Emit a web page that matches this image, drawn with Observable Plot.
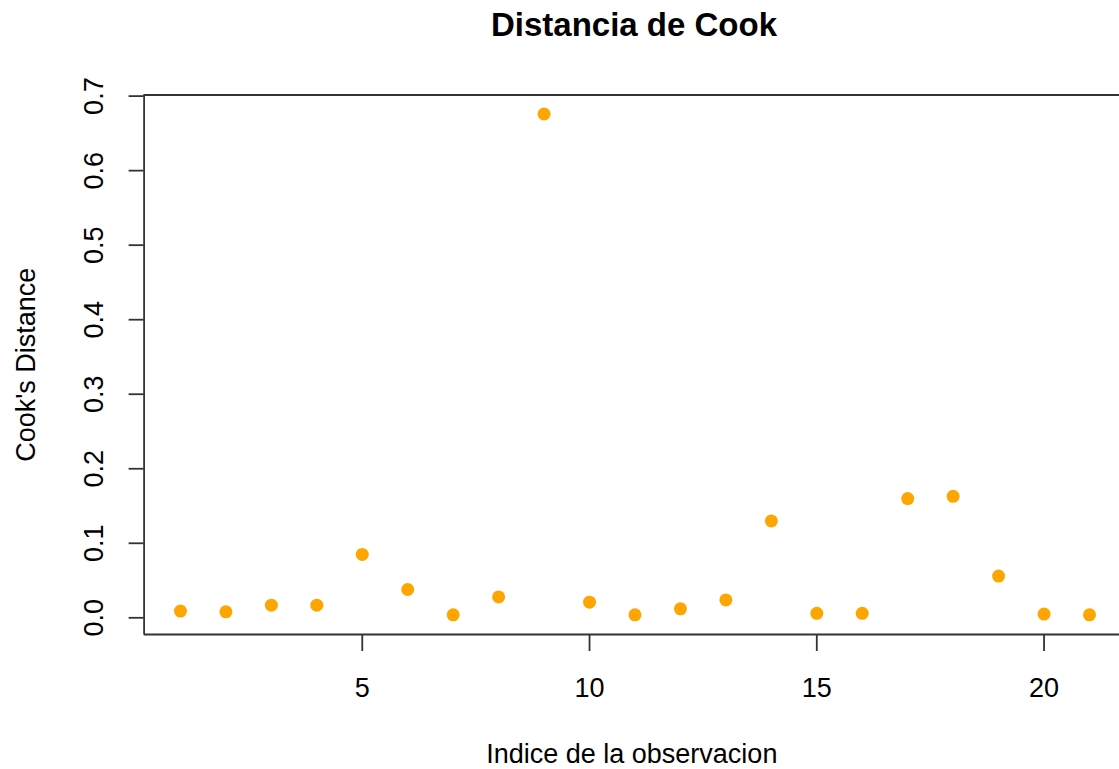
<!DOCTYPE html>
<html>
<head>
<meta charset="utf-8">
<script src="https://cdn.jsdelivr.net/npm/d3@7"></script>
<script src="https://cdn.jsdelivr.net/npm/@observablehq/plot@0.6"></script>
<style>
  html, body { margin: 0; padding: 0; background: #fff; overflow: hidden; }
  #wrap { position: relative; width: 1119px; height: 769px; font-family: "Liberation Sans", Arial, sans-serif; }
  #title { position: absolute; z-index: 2; top: 8px; left: 634px; transform: translateX(-50%); font-size: 33px; line-height: 33px; font-weight: bold; color: #000; white-space: nowrap; }
  #chart { position: absolute; z-index: 1; top: 0; left: 0; }
</style>
</head>
<body>
<div id="wrap">
  <div id="title">Distancia de Cook</div>
  <div id="chart"></div>
</div>
<script>
// Data
const observations = [1, 2, 3, 4, 5, 6, 7, 8, 9, 10, 11, 12, 13, 14, 15, 16, 17, 18, 19, 20, 21];
const cooksDistance = [0.009, 0.008, 0.017, 0.017, 0.085, 0.038, 0.004, 0.028, 0.676, 0.021, 0.004,
                       0.012, 0.024, 0.130, 0.006, 0.006, 0.160, 0.163, 0.056, 0.005, 0.004];
const xTicks = [5, 10, 15, 20];
const yTicks = [0, 0.1, 0.2, 0.3, 0.4, 0.5, 0.6, 0.7];
const titleText = "Distancia de Cook";
const xLabel = "Indice de la observacion";
const yLabel = "Cook's Distance";

const data = observations.map((o, i) => ({obs: o, d: cooksDistance[i]}));
const xDomain = [0.2, 21.66];
const yDomain = [-0.0224, 0.7015];

const chart = Plot.plot({
  width: 1119,
  height: 769,
  marginLeft: 143.6,
  marginRight: 0,
  marginTop: 94.5,
  marginBottom: 135,
  style: {fontFamily: "'Liberation Sans', Arial, sans-serif", background: "transparent", color: "#000"},
  x: {domain: xDomain},
  y: {domain: yDomain},
  marks: [
    Plot.ruleY([yDomain[0], yDomain[1]], {stroke: "#333", strokeWidth: 1.8}),
    Plot.ruleX([xDomain[0]], {stroke: "#333", strokeWidth: 1.8}),
    Plot.axisX({
      ticks: xTicks, tickSize: 17, tickPadding: 26, fontSize: 27,
      stroke: "#333", strokeWidth: 1.8, tickFormat: d3.format("d"),
      label: xLabel, labelAnchor: "center", labelOffset: 128, labelArrow: "none"
    }),
    Plot.axisY({
      ticks: yTicks, tickSize: 15, tickPadding: 26, tickRotate: -90, fontSize: 27,
      stroke: "#333", strokeWidth: 1.8, tickFormat: d3.format(".1f"),
      label: yLabel, labelAnchor: "center", labelOffset: 128, labelArrow: "none"
    }),
    Plot.dot(data, {x: "obs", y: "d", r: 6.5, fill: "orange", stroke: "none"})
  ]
});
document.getElementById("chart").appendChild(chart);
document.getElementById("title").textContent = titleText;
</script>
</body>
</html>
